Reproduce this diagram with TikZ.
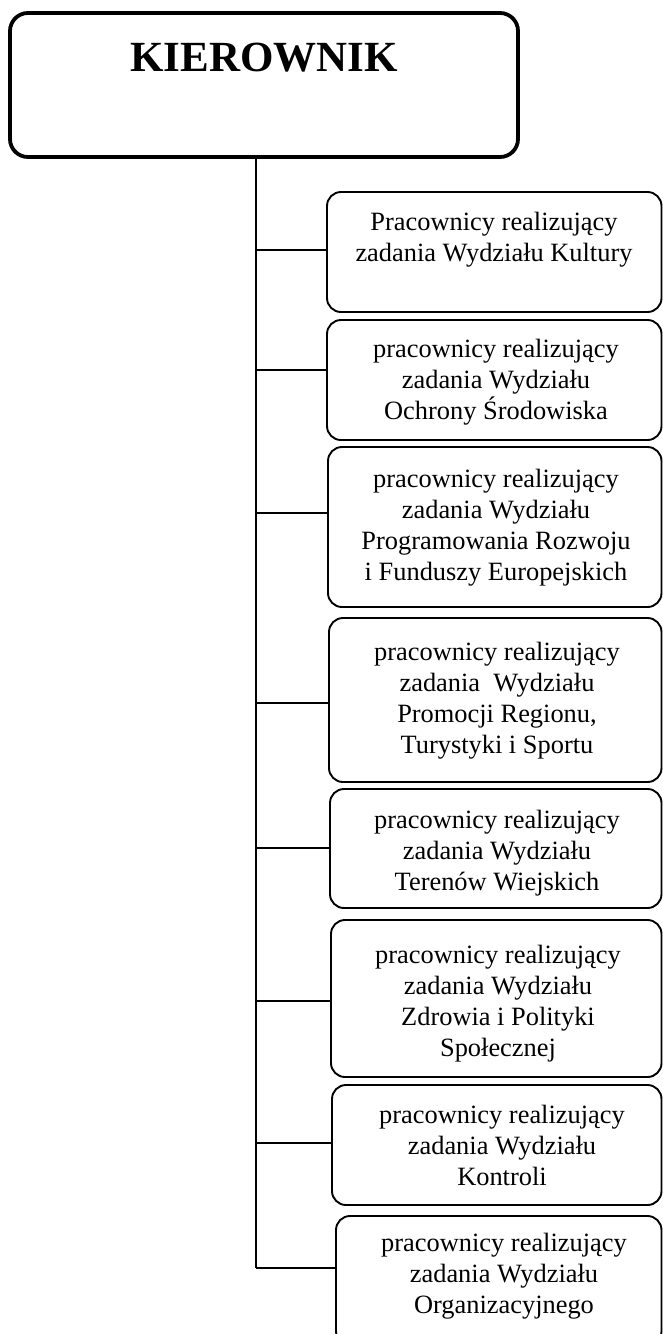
\documentclass[tikz,border=0pt]{standalone}
\usepackage{fontspec}
\setmainfont{Liberation Serif}
\begin{document}
\begin{tikzpicture}[x=0.5pt,y=-0.5pt,
  chief/.style={draw, line width=1.9pt, rounded corners=9pt, inner sep=0pt},
  unit/.style={draw, line width=0.95pt, rounded corners=7pt, inner sep=0pt},
  unittext/.style={anchor=north, inner sep=0pt, align=center,
    font=\fontsize{13.2}{15.4}\selectfont},
  link/.style={line width=0.7pt}]
\useasboundingbox (0,0) rectangle (663,1334);

% head of the unit
\node[chief, minimum width=254pt, minimum height=72pt] (boss) at (264,85) {};
\node[anchor=base, inner sep=0pt, font=\fontsize{21.5}{26}\selectfont\bfseries]
  (bosstext) at (264,71) {KIEROWNIK};

% subordinate boxes: name / left / top / bottom
\foreach \n/\l/\t/\b in {1/327/192/312, 2/327/320/440, 3/328/447/607,
    4/329/618/782, 5/330/789/908, 6/331/920/1077, 7/332/1085/1205,
    8/336/1216/1345}{
  \pgfmathsetmacro\w{(661.5-\l)*0.5}
  \pgfmathsetmacro\h{(\b-\t)*0.5}
  \node[unit, minimum width=\w pt, minimum height=\h pt]
    (b\n) at ({(\l+661.5)/2},{(\t+\b)/2}) {};
}

% box texts, placed by the top of their first line
\node[unittext] (t1) at (494,212) {Pracownicy realizujący\\zadania Wydziału Kultury};
\node[unittext] (t2) at (496,339) {pracownicy realizujący\\zadania Wydziału\\Ochrony Środowiska};
\node[unittext] (t3) at (496,469) {pracownicy realizujący\\zadania Wydziału\\Programowania Rozwoju\\i Funduszy Europejskich};
\node[unittext] (t4) at (497,642) {pracownicy realizujący\\zadania~ Wydziału\\Promocji Regionu,\\Turystyki i Sportu};
\node[unittext] (t5) at (497,810) {pracownicy realizujący\\zadania Wydziału\\Terenów Wiejskich};
\node[unittext] (t6) at (498,945) {pracownicy realizujący\\zadania Wydziału\\Zdrowia i Polityki\\Społecznej};
\node[unittext] (t7) at (502,1105) {pracownicy realizujący\\zadania Wydziału\\Kontroli};
\node[unittext] (t8) at (504,1233) {pracownicy realizujący\\zadania Wydziału\\Organizacyjnego};

% trunk and branches
\coordinate (top) at (256,157);
\foreach \n/\y in {1/250, 2/370, 3/513, 4/703, 5/848, 6/1001, 7/1143, 8/1268}{
  \coordinate (j\n) at (256,\y);
  \draw[link] (j\n) -- (j\n -| b\n.west);
}
\draw[link] (top) -- (j8);
\end{tikzpicture}
\end{document}
